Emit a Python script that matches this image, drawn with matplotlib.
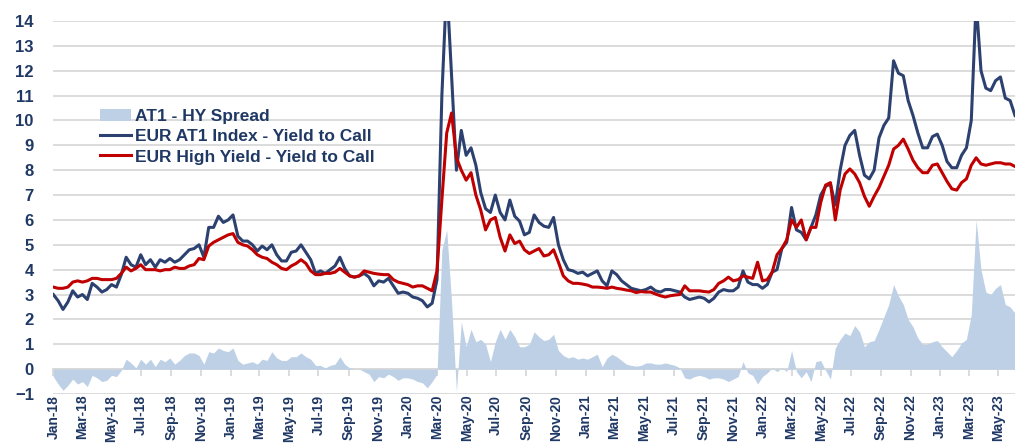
import matplotlib
matplotlib.use("Agg")
import matplotlib.pyplot as plt
import matplotlib.dates as mdates
import pandas as pd

# samples every 10 days from 1 Jan 2018
dates = pd.date_range("2018-01-01", periods=199, freq="10D")

at1_ytc = [
    3.0, 2.75, 2.4, 2.7, 3.15, 2.9, 3.0, 2.8, 3.45, 3.3,
    3.1, 3.2, 3.4, 3.3, 3.8, 4.5, 4.2, 4.1, 4.6, 4.2,
    4.4, 4.1, 4.4, 4.3, 4.45, 4.3, 4.4, 4.6, 4.8, 4.85,
    5.0, 4.5, 5.7, 5.7, 6.15, 5.9, 6.0, 6.2, 5.35, 5.15,
    5.15, 5.0, 4.75, 4.95, 4.8, 5.0, 4.6, 4.35, 4.35, 4.7,
    4.75, 5.0, 4.7, 4.4, 3.85, 3.95, 3.85, 4.0, 4.15, 4.5,
    4.05, 3.75, 3.7, 3.75, 3.85, 3.7, 3.35, 3.55, 3.5, 3.65,
    3.35, 3.05, 3.1, 3.05, 2.9, 2.85, 2.75, 2.5, 2.65, 3.6,
    11.0, 15.5, 11.8, 8.0, 9.6, 8.6, 8.9, 8.2, 7.1, 6.45,
    6.3, 7.0, 6.3, 6.0, 6.8, 6.15, 5.95, 5.4, 5.5, 6.2,
    5.9, 5.75, 5.7, 6.1, 5.0, 4.4, 4.0, 3.95, 3.85, 3.9,
    3.75, 3.85, 3.95, 3.55, 3.35, 3.95, 3.8, 3.55, 3.4, 3.25,
    3.2, 3.15, 3.2, 3.3, 3.15, 3.1, 3.2, 3.2, 3.15, 3.1,
    2.9, 2.8, 2.85, 2.9, 2.85, 2.7, 2.85, 3.1, 3.2, 3.15,
    3.15, 3.3, 3.95, 3.5, 3.4, 3.4, 3.25, 3.4, 3.9, 4.0,
    4.85, 5.1, 6.5, 5.6, 5.5, 5.2, 5.7, 6.2, 7.0, 7.35,
    7.45, 6.6, 8.0, 9.0, 9.4, 9.6, 8.6, 7.8, 7.65, 8.0,
    9.3, 9.8, 10.1, 12.4, 11.9, 11.8, 10.8, 10.2, 9.5, 8.9,
    8.9, 9.35, 9.45, 9.0, 8.35, 8.1, 8.1, 8.6, 8.9, 10.0,
    14.8, 12.0, 11.3, 11.2, 11.6, 11.75, 10.9, 10.8, 10.2,
]

hy_ytc = [
    3.3, 3.25, 3.25, 3.3, 3.5, 3.55, 3.5, 3.55, 3.65, 3.65,
    3.6, 3.6, 3.6, 3.65, 3.85, 4.1, 3.95, 4.05, 4.2, 4.0,
    4.0, 4.0, 3.95, 4.0, 4.0, 4.1, 4.05, 4.05, 4.15, 4.2,
    4.45, 4.4, 4.95, 5.1, 5.2, 5.3, 5.4, 5.45, 5.1, 5.0,
    4.95, 4.8, 4.6, 4.5, 4.45, 4.3, 4.2, 4.05, 4.0, 4.15,
    4.25, 4.4, 4.25, 3.95, 3.8, 3.8, 3.85, 3.85, 3.9, 4.05,
    3.9, 3.75, 3.7, 3.75, 3.95, 3.9, 3.85, 3.82, 3.8, 3.8,
    3.6, 3.5, 3.45, 3.4, 3.3, 3.35, 3.35, 3.25, 3.15, 3.95,
    6.8, 9.5, 10.3, 8.5, 8.0, 7.6, 7.9, 7.0, 6.4, 5.6,
    6.0, 6.1, 5.3, 4.75, 5.4, 5.05, 5.15, 4.8, 4.65, 4.75,
    4.85, 4.55, 4.6, 4.8, 4.3, 3.75, 3.55, 3.45, 3.45, 3.42,
    3.38, 3.3, 3.3, 3.28, 3.25, 3.3, 3.25, 3.22, 3.18, 3.15,
    3.08, 3.12, 3.1, 3.1, 3.02, 2.95, 2.9, 2.95, 2.98, 3.0,
    3.35, 3.15, 3.15, 3.15, 3.12, 3.1, 3.2, 3.45, 3.55, 3.7,
    3.55, 3.6, 3.75, 3.7, 3.65, 4.3, 3.55, 3.6, 3.9, 4.6,
    4.85, 5.2, 6.0, 5.7, 6.0, 5.2, 5.7, 5.7, 6.7, 7.4,
    7.5, 6.0, 7.2, 7.85, 8.05, 7.85, 7.5, 6.95, 6.55, 6.95,
    7.3, 7.75, 8.2, 8.85, 9.0, 9.25, 8.85, 8.4, 8.1, 7.9,
    7.9, 8.2, 8.25, 7.9, 7.55, 7.25, 7.2, 7.5, 7.65, 8.2,
    8.5, 8.25, 8.2, 8.25, 8.3, 8.3, 8.25, 8.25, 8.15,
]

spread = [
    -0.3, -0.6, -0.85, -0.65, -0.4, -0.6, -0.5, -0.7, -0.25, -0.35,
    -0.5, -0.45, -0.25, -0.3, -0.05, 0.4, 0.25, 0.05, 0.4, 0.2,
    0.4, 0.1, 0.4, 0.3, 0.45, 0.2, 0.35, 0.55, 0.65, 0.65,
    0.55, 0.2, 0.7, 0.65, 0.85, 0.75, 0.7, 0.85, 0.35, 0.2,
    0.25, 0.3, 0.2, 0.4, 0.35, 0.7, 0.45, 0.35, 0.35, 0.5,
    0.5, 0.65, 0.5, 0.4, 0.15, 0.15, 0.05, 0.15, 0.2, 0.5,
    0.2, 0.05, 0.0, 0.0, -0.1, -0.2, -0.5, -0.3, -0.35, -0.2,
    -0.3, -0.45, -0.35, -0.35, -0.4, -0.5, -0.55, -0.75, -0.5, -0.2,
    4.8, 5.6, 2.7, -0.9, 1.9, 0.9, 1.6, 1.1, 1.2, 1.0,
    0.3, 1.1, 1.6, 1.2, 1.6, 1.3, 0.9, 0.9, 1.0, 1.5,
    1.3, 1.15, 1.2, 1.4, 0.75, 0.55, 0.45, 0.5, 0.4, 0.45,
    0.4, 0.5, 0.6, 0.1, 0.45, 0.6, 0.5, 0.35, 0.2, 0.15,
    0.12, 0.15, 0.25, 0.25, 0.2, 0.2, 0.25, 0.2, 0.15, 0.05,
    -0.35, -0.4, -0.3, -0.25, -0.3, -0.4, -0.35, -0.35, -0.4, -0.5,
    -0.4, -0.3, 0.3, -0.15, -0.25, -0.6, -0.3, -0.15, 0.05, -0.1,
    0.05, -0.1, 0.75, -0.1, -0.35, -0.1, -0.5, 0.3, 0.35, -0.05,
    -0.4, 0.85, 1.2, 1.45, 1.35, 1.75, 1.5, 0.9, 1.1, 1.15,
    1.6, 2.1, 2.6, 3.4, 2.95, 2.6, 2.0, 1.7, 1.25, 1.0,
    1.0, 1.1, 1.15, 0.9, 0.7, 0.5, 0.75, 1.05, 1.2, 2.2,
    6.0, 4.0, 3.1, 3.0, 3.25, 3.4, 2.6, 2.5, 2.25,
]

labels = ["AT1 - HY Spread", "EUR AT1 Index - Yield to Call",
          "EUR High Yield - Yield to Call"]

navy = "#1F3864"
grid_c = "#D9D9D9"

plt.rcParams["font.family"] = ["Liberation Sans", "DejaVu Sans"]
plt.rcParams["font.weight"] = "bold"
plt.rcParams["font.size"] = 12

fig = plt.figure(figsize=(10.15, 4.44), dpi=100)
ax = fig.add_axes([53.3 / 1015, 50 / 444, 961.7 / 1015, 373 / 444])

area = ax.fill_between(dates, 0, spread, color="#BDD0E6", linewidth=0, zorder=2)
l1, = ax.plot(dates, at1_ytc, color="#2C4170", lw=2.2, zorder=3)
l2, = ax.plot(dates, hy_ytc, color="#C00000", lw=2.2, zorder=4)

ax.set_xlim(dates[0], dates[-1])
ax.set_ylim(-1, 14)
ax.set_yticks(range(-1, 15))
ax.grid(axis="y", color=grid_c, lw=1.3, zorder=1)
ax.set_axisbelow(True)
for s in ax.spines.values():
    s.set_visible(False)

ax.xaxis.set_major_locator(mdates.MonthLocator(bymonth=[1, 3, 5, 7, 9, 11]))
ax.xaxis.set_major_formatter(mdates.DateFormatter("%b-%y"))
ax.tick_params(axis="x", length=0, pad=0.5, labelrotation=90, labelcolor=navy,
               labelsize=10)
ax.tick_params(axis="y", length=0, pad=14, labelcolor=navy, labelsize=12)

# category axis crosses at zero, with its small tick marks
sec = ax.secondary_xaxis(1 / 15)
sec.xaxis.set_major_locator(mdates.MonthLocator(bymonth=[1, 3, 5, 7, 9, 11]))
sec.tick_params(axis="x", direction="out", length=5, width=1.3, color=grid_c,
                labelbottom=False, labeltop=False)
for s in sec.spines.values():
    s.set_color(grid_c)
    s.set_linewidth(1.3)

ax.legend([area, l1, l2], labels, loc="upper left", bbox_to_anchor=(0.0486, 0.765),
          frameon=False, handlelength=1.8, handletextpad=0.2, labelspacing=0.3,
          borderaxespad=0, borderpad=0, labelcolor=navy, fontsize=12.5)

fig.savefig("out.png", dpi=100)
